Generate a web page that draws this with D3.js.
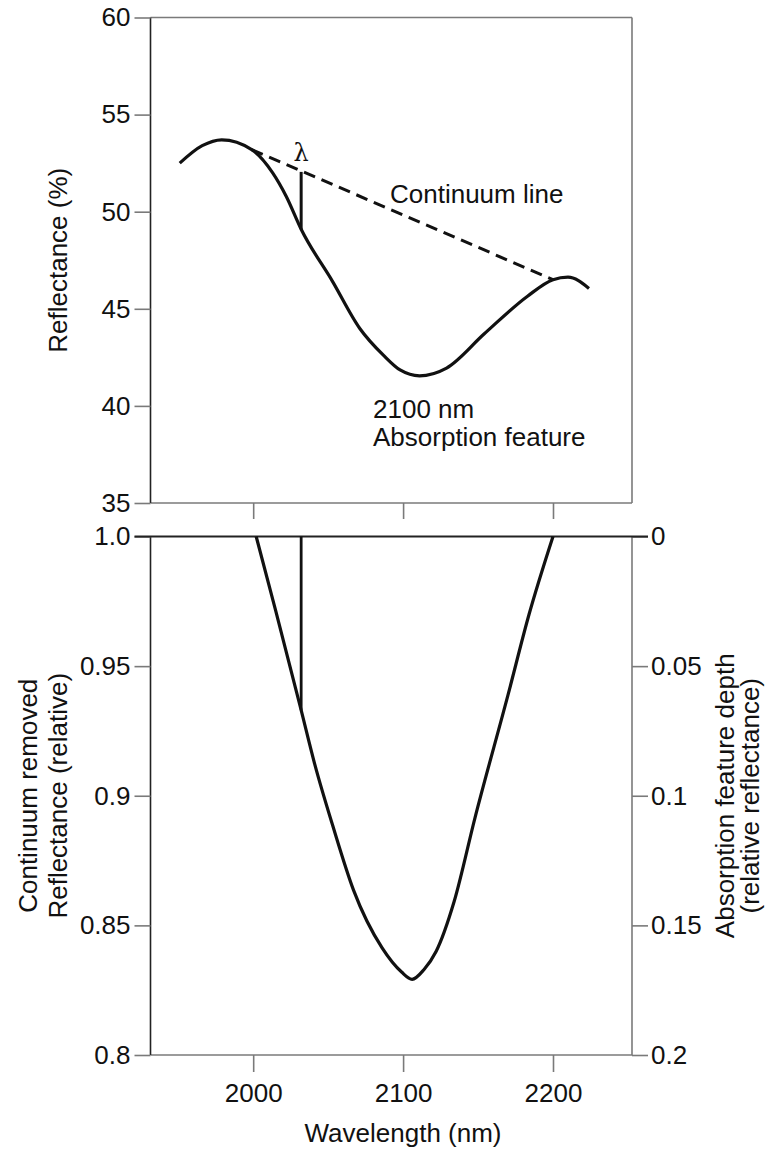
<!DOCTYPE html>
<html><head><meta charset="utf-8">
<script src="https://cdn.jsdelivr.net/npm/d3@7"></script>
<style>
html,body{margin:0;padding:0;background:#fff;}
svg{display:block;font-family:"Liberation Sans",Arial,Helvetica,sans-serif;}
</style></head>
<body>
<svg id="chart" width="765" height="1149"></svg>
<script>
// ---- data ----
const wavelengthTicks = [2000, 2100, 2200];
const reflTicks = [35, 40, 45, 50, 55, 60];
const crTicks = [0.8, 0.85, 0.9, 0.95, 1.0];
const crTickLabels = ["0.8", "0.85", "0.9", "0.95", "1.0"];
const depthTicks = [0, 0.05, 0.1, 0.15, 0.2];
const depthTickLabels = ["0", "0.05", "0.1", "0.15", "0.2"];

const spectrumWl =   [1951, 1966, 1979, 1999, 2013, 2022, 2032, 2053, 2071, 2087, 2098, 2111, 2129, 2154, 2183, 2200, 2210, 2224];
const spectrumRefl = [52.5, 53.4, 53.7, 53.2, 52.0, 50.8, 49.1, 46.4, 44.0, 42.6, 41.85, 41.55, 41.95, 43.7, 45.65, 46.5, 46.63, 46.05];

const continuumWl = [1999, 2200];
const continuumRefl = [53.2, 46.5];

const lambdaWl = 2032;
const lambdaTop = 52.05;
const lambdaBottom = 49.1;

const crWl =  [2002, 2015, 2032, 2041, 2053, 2067, 2086, 2099, 2106, 2114, 2122, 2134, 2148, 2170, 2184, 2200];
const crVal = [1.0, 0.9714, 0.933, 0.9123, 0.8886, 0.8635, 0.8413, 0.832, 0.8292, 0.833, 0.8399, 0.8591, 0.8916, 0.9389, 0.9699, 1.0];
const crLambdaBottom = 0.933;

// ---- layout ----
const svg = d3.select("#chart");
const X0 = 150.5, X1 = 632;
const T0 = 17.5, T1 = 503;
const B0 = 536.5, B1 = 1055;
const FS = 26;
const grey = "#7a7a7a", dark = "#222";

const x = d3.scaleLinear().domain([1931.5, 2252.7]).range([X0, X1]);
const yTop = d3.scaleLinear().domain([35, 60]).range([T1, T0]);
const yBot = d3.scaleLinear().domain([0.8, 1.0]).range([B1, B0]);
const yDepth = d3.scaleLinear().domain([0, 0.2]).range([B0, B1]);

function styleAxis(g) {
  g.select(".domain").remove();
  g.selectAll(".tick line").attr("stroke", grey).attr("stroke-width", 1.6);
  g.selectAll(".tick text").attr("fill", "#111").style("font-size", FS + "px").style("font-family", "Liberation Sans, Arial, sans-serif");
}

// frames (top panel)
svg.append("line").attr("x1", X0).attr("x2", X1).attr("y1", T0).attr("y2", T0).attr("stroke", grey).attr("stroke-width", 1.6);
svg.append("line").attr("x1", X1).attr("x2", X1).attr("y1", T0).attr("y2", T1).attr("stroke", grey).attr("stroke-width", 1.6);
svg.append("line").attr("x1", X0).attr("x2", X1).attr("y1", T1).attr("y2", T1).attr("stroke", grey).attr("stroke-width", 1.6);
svg.append("line").attr("x1", X0).attr("x2", X0).attr("y1", T0).attr("y2", T1).attr("stroke", dark).attr("stroke-width", 1.6);
// frames (bottom panel)
svg.append("line").attr("x1", X1).attr("x2", X1).attr("y1", B0).attr("y2", B1).attr("stroke", grey).attr("stroke-width", 1.6);
svg.append("line").attr("x1", X0).attr("x2", X1).attr("y1", B1).attr("y2", B1).attr("stroke", grey).attr("stroke-width", 1.6);
svg.append("line").attr("x1", X0).attr("x2", X0).attr("y1", B0).attr("y2", B1).attr("stroke", dark).attr("stroke-width", 1.6);

// axes top panel
const gTL = svg.append("g").attr("transform", `translate(${X0},0)`)
  .call(d3.axisLeft(yTop).tickValues(reflTicks).tickSize(16).tickPadding(4).tickFormat(d3.format("d")));
styleAxis(gTL);
const gTB = svg.append("g").attr("transform", `translate(0,${T1})`)
  .call(d3.axisBottom(x).tickValues(wavelengthTicks).tickSize(16).tickFormat(""));
styleAxis(gTB);

// axes bottom panel
const gBL = svg.append("g").attr("transform", `translate(${X0},0)`)
  .call(d3.axisLeft(yBot).tickValues(crTicks).tickSize(16).tickPadding(4).tickFormat((d, i) => crTickLabels[i]));
styleAxis(gBL);
const gBR = svg.append("g").attr("transform", `translate(${X1},0)`)
  .call(d3.axisRight(yDepth).tickValues(depthTicks).tickSize(16).tickPadding(3).tickFormat((d, i) => depthTickLabels[i]));
styleAxis(gBR);
const gBB = svg.append("g").attr("transform", `translate(0,${B1})`)
  .call(d3.axisBottom(x).tickValues(wavelengthTicks).tickSize(17).tickPadding(12).tickFormat(d3.format("d")));
styleAxis(gBB);

// top line of bottom panel (dark, spans ticks)
svg.append("line").attr("x1", X0 - 16).attr("x2", X1 + 16).attr("y1", B0).attr("y2", B0).attr("stroke", dark).attr("stroke-width", 1.8);

// curves
const line = d3.line().curve(d3.curveMonotoneX);
svg.append("path")
  .attr("d", line(spectrumWl.map((w, i) => [x(w), yTop(spectrumRefl[i])])))
  .attr("fill", "none").attr("stroke", "#111").attr("stroke-width", 3.2).attr("stroke-linejoin", "round");
svg.append("path")
  .attr("d", d3.line()(continuumWl.map((w, i) => [x(w), yTop(continuumRefl[i])])))
  .attr("fill", "none").attr("stroke", "#111").attr("stroke-width", 3).attr("stroke-dasharray", "12,7");
svg.append("line").attr("x1", x(lambdaWl)).attr("x2", x(lambdaWl))
  .attr("y1", yTop(lambdaTop)).attr("y2", yTop(lambdaBottom)).attr("stroke", "#111").attr("stroke-width", 3);

svg.append("path")
  .attr("d", line(crWl.map((w, i) => [x(w), yBot(crVal[i])])))
  .attr("fill", "none").attr("stroke", "#111").attr("stroke-width", 3.2).attr("stroke-linejoin", "round");
svg.append("line").attr("x1", x(lambdaWl)).attr("x2", x(lambdaWl))
  .attr("y1", yBot(1.0)).attr("y2", yBot(crLambdaBottom)).attr("stroke", "#111").attr("stroke-width", 2.8);

// annotations
const txt = (xx, yy, s, opts = {}) => svg.append("text").attr("x", xx).attr("y", yy).text(s)
  .attr("fill", "#111").style("font-size", (opts.fs || FS) + "px").attr("text-anchor", opts.anchor || "start")
  .attr("transform", opts.rot ? `rotate(-90,${xx},${yy})` : null);

txt(x(lambdaWl), yTop(lambdaTop) - 11, "λ", { anchor: "middle", fs: 24 }).style("font-family", "DejaVu Serif, serif");
txt(390, 203, "Continuum line");
txt(373, 418, "2100 nm");
txt(373, 446, "Absorption feature");

// axis titles
txt(403, 1142, "Wavelength (nm)", { anchor: "middle" });
txt(67, (T0 + T1) / 2, "Reflectance (%)", { anchor: "middle", rot: true });
txt(37, (B0 + B1) / 2, "Continuum removed", { anchor: "middle", rot: true });
txt(67, (B0 + B1) / 2, "Reflectance (relative)", { anchor: "middle", rot: true });
txt(734, (B0 + B1) / 2, "Absorption feature depth", { anchor: "middle", rot: true });
txt(759, (B0 + B1) / 2, "(relative reflectance)", { anchor: "middle", rot: true });
</script>
</body></html>
